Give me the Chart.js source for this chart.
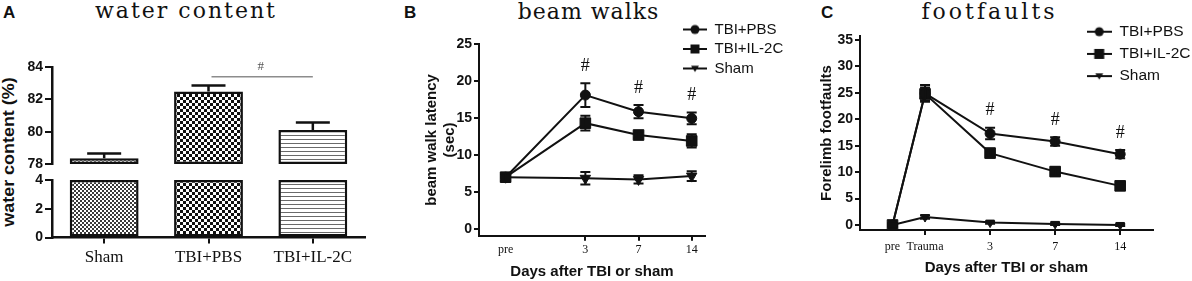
<!DOCTYPE html>
<html lang="en">
<head>
<meta charset="UTF-8">
<title>water content / beam walks / footfaults</title>
<script src="https://cdn.jsdelivr.net/npm/chart.js@4.4.4/dist/chart.umd.min.js"></script>
<style>
  html, body { margin: 0; padding: 0; background: #fff; }
  #fig { position: relative; width: 1192px; height: 281px; overflow: hidden; }
  #fig canvas { position: absolute; }
  .lbl { position: absolute; font: bold 17px "Liberation Sans", Arial, sans-serif; line-height: 1; color: #111; }
  .ttl { position: absolute; font: 22px "DejaVu Serif", "Liberation Serif", serif; line-height: 1; color: #111;
         white-space: nowrap; transform: translateX(-50%); }
  .ytl { position: absolute; font: bold 16px "Liberation Sans", Arial, sans-serif; line-height: 1; color: #111;
         white-space: nowrap; transform: translate(-50%, -50%) rotate(-90deg) scaleX(1.12); }
</style>
</head>
<body>
<div id="fig">
  <div class="lbl" style="left:3px;top:4px">A</div>
  <div class="ttl" style="left:185px;top:0px;letter-spacing:2px;padding-left:2px">water content</div>
  <div class="ytl" style="left:9px;top:152px">water content (%)</div>
  <canvas id="waterTop" width="380" height="120" style="left:0;top:55px"></canvas>
  <canvas id="waterBottom" width="380" height="113" style="left:0;top:168px"></canvas>

  <div class="lbl" style="left:404px;top:4px">B</div>
  <div class="ttl" style="left:588px;top:1px;letter-spacing:1px;padding-left:1px">beam walks</div>
  <canvas id="beam" width="390" height="281" style="left:400px;top:0"></canvas>

  <div class="lbl" style="left:821px;top:4px">C</div>
  <div class="ttl" style="left:988px;top:1px;letter-spacing:3px;padding-left:3px">footfaults</div>
  <canvas id="foot" width="402" height="281" style="left:790px;top:0"></canvas>
</div>

<script>
// panel A: water content (%)
const waterCats = ['Sham', 'TBI+PBS', 'TBI+IL-2C'];
const waterValues = [78.36, 82.49, 80.1];
const waterErrors = [0.29, 0.36, 0.46];
const waterTopRange = [78, 84];
const waterBottomRange = [0, 4];
const waterSigPair = [1, 2];
const waterSigLevel = 83.4;
const waterSigMarkLevel = 84.05;

// panel B: beam walk latency (sec)
const beamLabels = ['pre', '3', '7', '14'];
const beamPos = [0, 1.5, 2.5, 3.5];
const beamPBS = [7.0, 18.1, 15.85, 14.95];
const beamPBSErr = [0.5, 1.6, 0.9, 0.8];
const beamIL2C = [7.0, 14.3, 12.7, 11.9];
const beamIL2CErr = [0.5, 1.0, 0.45, 0.9];
const beamSham = [7.0, 6.85, 6.7, 7.15];
const beamShamErr = [0.5, 0.85, 0.55, 0.65];
const beamSig = [false, true, true, true];

// panel C: forelimb footfaults
const footLabels = ['pre', 'Trauma', '3', '7', '14'];
const footPos = [0, 0.5, 1.5, 2.5, 3.5];
const footPBS = [0, 24.9, 17.3, 15.8, 13.4];
const footPBSErr = [0.3, 1.6, 1.1, 0.8, 0.8];
const footIL2C = [0, 24.8, 13.6, 10.1, 7.4];
const footIL2CErr = [0.3, 1.2, 0.8, 0.8, 0.4];
const footSham = [0, 1.5, 0.45, 0.2, 0.0];
const footShamErr = [0.2, 0.3, 0.2, 0.2, 0.2];
const footSig = [false, false, true, true, true];

const INK = '#111';
const SANS = '"Liberation Sans", Arial, sans-serif';
const SERIF = '"Liberation Serif", "Times New Roman", serif';

Chart.defaults.font.family = SANS;
Chart.defaults.color = INK;
Chart.defaults.animation = false;
Chart.defaults.events = [];
Chart.defaults.plugins.tooltip.enabled = false;

// error bars (+ optional '#' above the upper cap)
const errorBars = {
  id: 'errorBars',
  afterDatasetsDraw(chart) {
    const ctx = chart.ctx;
    chart.data.datasets.forEach((ds, di) => {
      if (!ds.errors) return;
      const meta = chart.getDatasetMeta(di);
      const ys = chart.scales[meta.yAxisID];
      ctx.save();
      ctx.strokeStyle = INK;
      ctx.fillStyle = INK;
      ctx.lineWidth = ds.errorWidth || 2;
      meta.data.forEach((el, i) => {
        const v = ds.means[i], e = ds.errors[i];
        const top = ys.getPixelForValue(v + e);
        const bot = ys.getPixelForValue(ds.upOnly ? v : v - e);
        const h = ds.capHalf;
        ctx.beginPath();
        ctx.moveTo(el.x, bot); ctx.lineTo(el.x, top);
        ctx.moveTo(el.x - h, top); ctx.lineTo(el.x + h, top);
        if (!ds.upOnly) { ctx.moveTo(el.x - h, bot); ctx.lineTo(el.x + h, bot); }
        ctx.stroke();
        if (ds.sig && ds.sig[i]) {
          ctx.font = '18px ' + SERIF;
          ctx.textAlign = 'center';
          ctx.textBaseline = 'middle';
          ctx.fillText('#', el.x, top - 17);
        }
      });
      ctx.restore();
    });
  }
};

// grey comparison line with '#'
const sigLine = {
  id: 'sigLine',
  afterDraw(chart, args, o) {
    if (!o || !o.pair) return;
    const x = chart.scales.x, y = chart.scales.y, ctx = chart.ctx;
    const x0 = x.getPixelForValue(o.pair[0]), x1 = x.getPixelForValue(o.pair[1]);
    ctx.save();
    ctx.strokeStyle = '#8c8c8c';
    ctx.lineWidth = 1.5;
    ctx.beginPath();
    ctx.moveTo(x0 + 3, y.getPixelForValue(o.level));
    ctx.lineTo(x1, y.getPixelForValue(o.level));
    ctx.stroke();
    ctx.fillStyle = '#555';
    ctx.font = '13px ' + SERIF;
    ctx.textAlign = 'center';
    ctx.textBaseline = 'middle';
    ctx.fillText('#', (x0 + x1) / 2, y.getPixelForValue(o.markLevel));
    ctx.restore();
  }
};

// put the legend where the figure has it (top right, over the plot)
const placeLegend = {
  id: 'placeLegend',
  afterLayout(chart, args, o) {
    const lg = chart.legend;
    if (!lg || o.x == null) return;
    const lab = chart.options.plugins.legend.labels;
    const pad = lab.padding, fs = lab.font.size;
    lg.left = o.x - pad;
    lg.top = o.y - pad - fs / 2;
    lg.right = lg.left + lg.width;
    lg.bottom = lg.top + lg.height;
  }
};

function legendSymbol(style, w, s) {
  const c = document.createElement('canvas');
  c.width = w; c.height = 16;
  const g = c.getContext('2d');
  g.strokeStyle = INK; g.fillStyle = INK; g.lineWidth = 2;
  g.beginPath(); g.moveTo(0, 8); g.lineTo(w, 8); g.stroke();
  const cx = w / 2, cy = 8;
  g.beginPath();
  if (style === 'circle') g.arc(cx, cy, s * 0.5, 0, Math.PI * 2);
  else if (style === 'rect') g.rect(cx - s * 0.5, cy - s * 0.5, s, s);
  else { g.moveTo(cx - s * 0.5, cy - s * 0.35); g.lineTo(cx + s * 0.5, cy - s * 0.35); g.lineTo(cx, cy + s * 0.45); g.closePath(); }
  g.fill();
  return c;
}

function legendLabels(symbols) {
  return chart => chart.data.datasets.map((ds, i) => ({
    text: ds.label, pointStyle: symbols[i], fillStyle: INK, strokeStyle: INK,
    lineWidth: 0, fontColor: INK, hidden: false, datasetIndex: i
  }));
}

function checker(ctx, cell, ink) {
  const t = document.createElement('canvas');
  t.width = t.height = cell * 2;
  const g = t.getContext('2d');
  g.fillStyle = '#fff'; g.fillRect(0, 0, cell * 2, cell * 2);
  g.fillStyle = ink;
  g.fillRect(0, 0, cell, cell); g.fillRect(cell, cell, cell, cell);
  return ctx.createPattern(t, 'repeat');
}
function stripes(ctx, period, ink) {
  const t = document.createElement('canvas');
  t.width = 4; t.height = period;
  const g = t.getContext('2d');
  g.fillStyle = '#fff'; g.fillRect(0, 0, 4, period);
  g.fillStyle = ink; g.fillRect(0, 0, 4, 1);
  return ctx.createPattern(t, 'repeat');
}
function barFills(canvas) {
  const c = canvas.getContext('2d');
  return [checker(c, 2, '#3a3a3a'), checker(c, 3, '#111'), stripes(c, 4, '#6a6a6a')];
}

function yAxisA(range, width) {
  return {
    min: range[0], max: range[1],
    ticks: { stepSize: 2, padding: 2, font: { size: 14, weight: 'bold' } },
    grid: { drawOnChartArea: false, tickLength: 7, color: INK, lineWidth: 2 },
    border: { color: INK, width: 2.5 },
    afterFit: s => { s.width = width; }
  };
}

function barSet(canvas, data, withErrors) {
  return Object.assign({
    data,
    backgroundColor: barFills(canvas),
    borderColor: INK, borderWidth: 2.5, borderSkipped: false,
    barPercentage: 0.66, categoryPercentage: 1
  }, withErrors ? { means: waterValues, errors: waterErrors, upOnly: true, capHalf: 17, errorWidth: 2.5 } : {});
}

// ---- A, upper part of the broken axis ----
const topCanvas = document.getElementById('waterTop');
new Chart(topCanvas, {
  type: 'bar',
  data: { labels: waterCats, datasets: [barSet(topCanvas, waterValues.map(v => [waterTopRange[0], v]), true)] },
  options: {
    responsive: false,
    layout: { padding: { top: 12, right: 15, bottom: 11, left: 0 }, autoPadding: false },
    plugins: {
      legend: { display: false },
      sigLine: { pair: waterSigPair, level: waterSigLevel, markLevel: waterSigMarkLevel }
    },
    scales: { x: { display: false }, y: yAxisA(waterTopRange, 52) }
  },
  plugins: [errorBars, sigLine]
});

// ---- A, lower part ----
const botCanvas = document.getElementById('waterBottom');
new Chart(botCanvas, {
  type: 'bar',
  data: { labels: waterCats, datasets: [barSet(botCanvas, waterValues.map(v => [waterBottomRange[0], Math.min(v, waterBottomRange[1])]), false)] },
  options: {
    responsive: false,
    layout: { padding: { top: 12, right: 15, bottom: 0, left: 0 }, autoPadding: false },
    plugins: { legend: { display: false } },
    scales: {
      x: {
        ticks: { padding: 4, font: { family: SERIF, size: 17 } },
        grid: { offset: false, drawOnChartArea: false, tickLength: 6, color: INK, lineWidth: 2 },
        border: { color: INK, width: 2.5 },
        afterFit: s => { s.height = 43.5; }
      },
      y: yAxisA(waterBottomRange, 52)
    }
  }
});

// ---- line panels ----
function lineSet(label, xs, ys, errs, style, radius, extra) {
  return Object.assign({
    label,
    data: xs.map((x, i) => ({ x, y: ys[i] })),
    means: ys, errors: errs, capHalf: 5,
    borderColor: INK, backgroundColor: INK, borderWidth: 2,
    pointStyle: style, pointRadius: radius, pointRotation: style === 'triangle' ? 180 : 0,
    pointBackgroundColor: INK, pointBorderColor: INK, pointBorderWidth: 1,
    tension: 0, clip: false
  }, extra || {});
}

function xAxisDays(min, max, pos, labels, hideFirstTick, tickPad, titlePad, height) {
  return {
    type: 'linear', min, max,
    afterBuildTicks: s => { s.ticks = pos.map(v => ({ value: v })); },
    ticks: { autoSkip: false, maxRotation: 0, padding: tickPad, font: { family: SERIF, size: 12 },
             callback: (v, i) => labels[i] },
    grid: { drawOnChartArea: false, tickLength: 5, lineWidth: 2,
            color: c => (hideFirstTick && c.index === 0) ? 'rgba(0,0,0,0)' : INK },
    border: { color: INK, width: 2 },
    title: { display: true, text: 'Days after TBI or sham', font: { size: 15, weight: 'bold' },
             padding: { top: 0, bottom: titlePad } },
    afterFit: s => { s.height = height; }
  };
}

function yAxisLine(min, max, title, titlePad, width) {
  return {
    min, max,
    ticks: { stepSize: 5, includeBounds: false, padding: 2, font: { size: 14, weight: 'bold' } },
    grid: { drawOnChartArea: false, tickLength: 5, color: INK, lineWidth: 2 },
    border: { color: INK, width: 2 },
    title: { display: true, text: title, font: { size: 15, weight: 'bold' }, padding: { top: titlePad } },
    afterFit: s => { s.width = width; }
  };
}

const symB = [legendSymbol('circle', 24, 9), legendSymbol('rect', 24, 9), legendSymbol('triangle', 24, 8)];
new Chart(document.getElementById('beam'), {
  type: 'line',
  data: {
    datasets: [
      lineSet('TBI+PBS', beamPos, beamPBS, beamPBSErr, 'circle', 5, { sig: beamSig }),
      lineSet('TBI+IL-2C', beamPos, beamIL2C, beamIL2CErr, 'rect', 7.5),
      lineSet('Sham', beamPos, beamSham, beamShamErr, 'triangle', 6)
    ]
  },
  options: {
    responsive: false,
    layout: { padding: { top: 44, right: 85, bottom: 0, left: 0 }, autoPadding: false },
    plugins: {
      legend: {
        position: 'chartArea', align: 'start',
        labels: { usePointStyle: true, pointStyleWidth: 24, padding: 4.5, font: { size: 15 }, color: INK,
                  generateLabels: legendLabels(symB) }
      },
      placeLegend: { x: 283, y: 29.5 }
    },
    scales: {
      x: xAxisDays(-0.5, 3.75, beamPos, beamLabels, true, 1.5, 0.3, 45.2),
      y: yAxisLine(-0.92, 25, ['beam walk latency', '(sec)'], 23, 79)
    }
  },
  plugins: [errorBars, placeLegend]
});

const symC = [legendSymbol('circle', 25, 9), legendSymbol('rect', 25, 10), legendSymbol('triangle', 25, 8)];
new Chart(document.getElementById('foot'), {
  type: 'line',
  data: {
    datasets: [
      lineSet('TBI+PBS', footPos, footPBS, footPBSErr, 'circle', 5, { sig: footSig }),
      lineSet('TBI+IL-2C', footPos, footIL2C, footIL2CErr, 'rect', 7.5),
      lineSet('Sham', footPos, footSham, footShamErr, 'triangle', 5)
    ]
  },
  options: {
    responsive: false,
    layout: { padding: { top: 36, right: 39.3, bottom: 0, left: 0 }, autoPadding: false },
    plugins: {
      legend: {
        position: 'chartArea', align: 'start',
        labels: { usePointStyle: true, pointStyleWidth: 25, padding: 6.7, font: { size: 15.5 }, color: INK,
                  generateLabels: legendLabels(symC) }
      },
      placeLegend: { x: 296.7, y: 31.7 }
    },
    scales: {
      x: xAxisDays(-0.5, 4.0, footPos, footLabels, true, 4.5, 3.7, 51),
      y: yAxisLine(-0.95, 35.75, 'Forelimb footfaults', 27.7, 70)
    }
  },
  plugins: [errorBars, placeLegend]
});
</script>
</body>
</html>
